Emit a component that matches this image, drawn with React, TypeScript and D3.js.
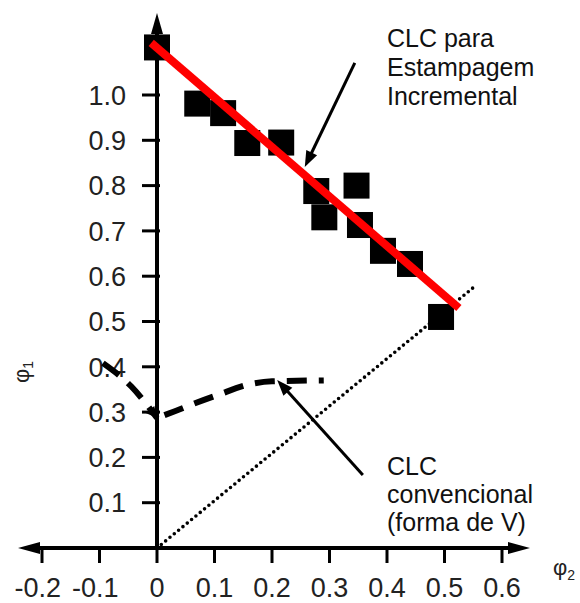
import React from 'react';
import * as d3 from 'd3';

const xTicks = [-0.2, -0.1, 0, 0.1, 0.2, 0.3, 0.4, 0.5, 0.6];
const yTicks = [0.1, 0.2, 0.3, 0.4, 0.5, 0.6, 0.7, 0.8, 0.9, 1.0];
const phi2 = [0.0, 0.07, 0.115, 0.157, 0.216, 0.277, 0.291, 0.347, 0.353, 0.393, 0.44, 0.494];
const phi1 = [1.105, 0.981, 0.96, 0.894, 0.895, 0.788, 0.73, 0.8, 0.713, 0.656, 0.627, 0.51];
const fitLine: [number, number][] = [[-0.01, 1.115], [0.525, 0.53]];
const identityLine: [number, number][] = [[0, 0], [0.555, 0.58]];
const vLeft: [number, number][] = [[-0.094, 0.408], [-0.045, 0.357], [0, 0.287]];
const vRight: [number, number][] = [[0, 0.287], [0.031, 0.302], [0.063, 0.318], [0.104, 0.337], [0.167, 0.363], [0.2, 0.368], [0.29, 0.37]];
const topNoteLines = ['CLC para', 'Estampagem', 'Incremental'];
const bottomNoteLines = ['CLC', 'convencional', '(forma de V)'];
const topArrow: [number, number][] = [[0.344, 1.071], [0.257, 0.841]];
const bottomArrow: [number, number][] = [[0.358, 0.161], [0.209, 0.371]];

const W = 580;
const H = 603;
const FONT = 'Liberation Sans, Arial, Helvetica, sans-serif';

export default function App() {
  const x = d3.scaleLinear().domain([-0.2, 0.6]).range([42, 502]);
  const y = d3.scaleLinear().domain([0, 1]).range([548, 95]);
  const line = d3.line<[number, number]>().x(d => x(d[0])).y(d => y(d[1]));
  const smooth = d3.line<[number, number]>().x(d => x(d[0])).y(d => y(d[1])).curve(d3.curveMonotoneX);

  const head = (p0: [number, number], p1: [number, number], len: number, wid: number) => {
    const ax = x(p0[0]), ay = y(p0[1]), bx = x(p1[0]), by = y(p1[1]);
    const dx = bx - ax, dy = by - ay;
    const L = Math.hypot(dx, dy);
    const ux = dx / L, uy = dy / L;
    const baseX = bx - ux * len, baseY = by - uy * len;
    const px = -uy * wid / 2, py = ux * wid / 2;
    return `M${bx},${by}L${baseX + px},${baseY + py}L${baseX - px},${baseY - py}Z`;
  };
  const shaft = (p0: [number, number], p1: [number, number], cut: number) => {
    const ax = x(p0[0]), ay = y(p0[1]), bx = x(p1[0]), by = y(p1[1]);
    const dx = bx - ax, dy = by - ay;
    const L = Math.hypot(dx, dy);
    return `M${ax},${ay}L${bx - dx / L * cut},${by - dy / L * cut}`;
  };

  const x0 = x(0), y0 = y(0);
  const sq = 26;

  return (
    <svg width={W} height={H} style={{ position: 'absolute', left: 0, top: 0, background: '#fff' }} fontFamily={FONT}>
      <rect x={0} y={0} width={W} height={H} fill="#fff" />
      {/* axes */}
      <line x1={x0} x2={x0} y1={30} y2={y0 + 2} stroke="#000" strokeWidth={4} />
      <path d={`M${x0},13L${x0 - 6},34L${x0 + 6},34Z`} fill="#000" />
      <line x1={36} x2={512} y1={y0} y2={y0} stroke="#000" strokeWidth={4} />
      <path d={`M18,${y0}L40,${y0 - 6}L40,${y0 + 6}Z`} fill="#000" />
      <path d={`M530,${y0}L508,${y0 - 6}L508,${y0 + 6}Z`} fill="#000" />
      {yTicks.map(t => (
        <g key={'y' + t}>
          <line x1={x0 - 15} x2={x0 + 3} y1={y(t)} y2={y(t)} stroke="#000" strokeWidth={3} />
          <text x={126} y={y(t)} dy="0.36em" textAnchor="end" fontSize={27} fill="#222">{t.toFixed(1)}</text>
        </g>
      ))}
      {xTicks.map(t => (
        <g key={'x' + t}>
          <line x1={x(t)} x2={x(t)} y1={y0} y2={y0 + 15} stroke="#000" strokeWidth={3} />
          <text x={t < 0 ? x(t) + 19 : x(t)} y={597} textAnchor={t < 0 ? 'end' : 'middle'} fontSize={27} fill="#222">
            {t === 0 ? '0' : t.toFixed(1)}
          </text>
        </g>
      ))}
      {/* axis labels */}
      <text transform={`translate(29,372) rotate(-90)`} textAnchor="middle" fontSize={22} fill="#222">
        φ<tspan fontSize={14} dy={4}>1</tspan>
      </text>
      <text x={553} y={575} fontSize={22} fill="#222">
        φ<tspan fontSize={14} dy={5}>2</tspan>
      </text>
      {/* identity dotted line */}
      <path d={line(identityLine) || ''} stroke="#000" strokeWidth={3.6} strokeDasharray="0 5.6" strokeLinecap="round" fill="none" />
      {/* V-shaped conventional FLC */}
      <path d={smooth(vLeft) || ''} stroke="#000" strokeWidth={6} strokeDasharray="20 12" fill="none" />
      <path d={head(vLeft[1], vLeft[2], 11, 11)} fill="#000" />
      <path d={smooth(vRight) || ''} stroke="#000" strokeWidth={6} strokeDasharray="20 12" strokeDashoffset={-8} fill="none" />
      {/* data squares */}
      {phi2.map((v, i) => (
        <rect key={'s' + i} x={x(v) - sq / 2} y={y(phi1[i]) - sq / 2} width={sq} height={sq} fill="#000" />
      ))}
      {/* fitted line */}
      <path d={line(fitLine) || ''} stroke="#ff0000" strokeWidth={8} fill="none" />
      {/* annotations */}
      <path d={shaft(topArrow[0], topArrow[1], 10)} stroke="#000" strokeWidth={3} fill="none" />
      <path d={head(topArrow[0], topArrow[1], 16, 12)} fill="#000" />
      <path d={shaft(bottomArrow[0], bottomArrow[1], 10)} stroke="#000" strokeWidth={3} fill="none" />
      <path d={head(bottomArrow[0], bottomArrow[1], 16, 12)} fill="#000" />
      {topNoteLines.map((s, i) => (
        <text key={'t' + i} x={387} y={47 + i * 29} fontSize={25} fill="#111">{s}</text>
      ))}
      {bottomNoteLines.map((s, i) => (
        <text key={'b' + i} x={387} y={475 + i * 28} fontSize={25} fill="#111">{s}</text>
      ))}
    </svg>
  );
}
